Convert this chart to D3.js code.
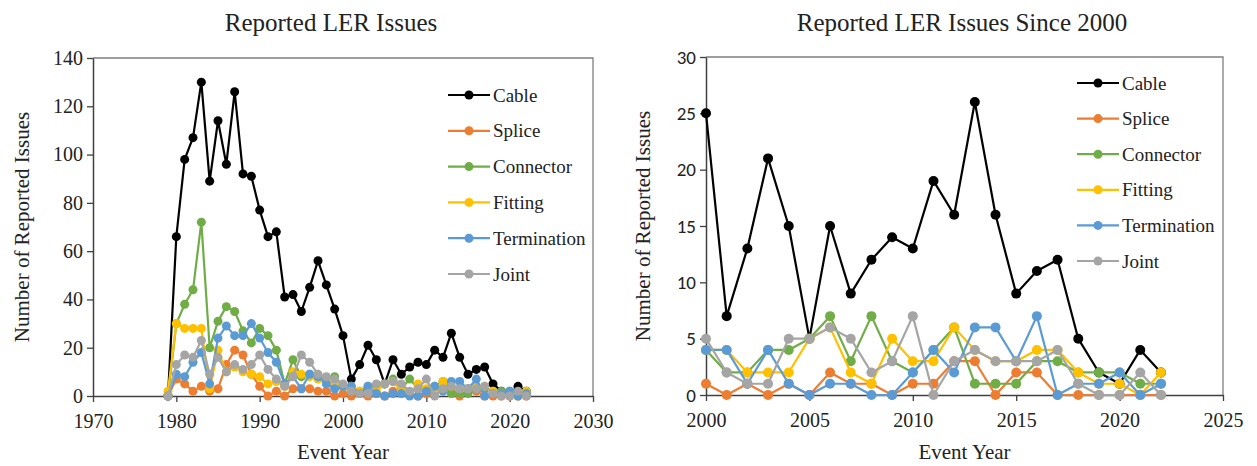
<!DOCTYPE html>
<html><head><meta charset="utf-8">
<script src="https://cdn.jsdelivr.net/npm/d3@7"></script>
<style>
body{margin:0;background:#fff;}
svg{display:block;}
</style></head>
<body>
<svg id="chart" width="1257" height="466"></svg>
<script>
// ---- data ----
const years = d3.range(1979, 2023);
const seriesNames = ["Cable","Splice","Connector","Fitting","Termination","Joint"];
const seriesColors = ["#000000","#ED7D31","#70AD47","#FFC000","#5B9BD5","#A5A5A5"];
const cable = [0,66,98,107,130,89,114,96,126,92,91,77,66,68,41,42,35,45,56,46,36,
  25,7,13,21,15,5,15,9,12,14,13,19,16,26,16,9,11,12,5,2,1,4,2];
const splice = [0,7,5,2,4,2,3,13,19,17,9,4,0,2,0,3,3,3,2,2,0,
  1,0,1,0,1,0,2,1,1,0,1,1,3,3,0,2,2,0,0,0,0,0,0];
const connector = [0,30,38,44,72,20,31,37,35,27,22,28,25,19,5,15,8,9,8,7,8,
  4,2,2,4,4,5,7,3,7,3,2,4,6,1,1,1,3,3,2,2,2,1,1];
const fitting = [2,30,28,28,28,3,19,10,12,10,9,8,5,6,4,10,9,8,7,6,5,
  4,4,2,2,2,5,6,2,1,5,3,3,6,4,3,3,4,4,2,1,1,0,2];
const termination = [0,9,8,14,18,5,24,29,25,25,30,24,18,14,5,8,3,9,8,5,3,
  4,4,1,4,1,0,1,1,0,0,2,4,2,6,6,3,7,0,1,1,2,0,1];
const joint = [0,13,17,16,23,9,16,10,13,11,13,17,11,7,4,8,17,14,9,8,7,
  5,2,1,1,5,5,6,5,2,3,7,0,3,4,3,3,3,4,1,0,0,2,0];
const allValues = [cable, splice, connector, fitting, termination, joint];

const leftXTicks = [1970,1980,1990,2000,2010,2020,2030];
const leftYTicks = [0,20,40,60,80,100,120,140];
const rightXTicks = [2000,2005,2010,2015,2020,2025];
const rightYTicks = [0,5,10,15,20,25,30];

const titles = ["Reported LER Issues","Reported LER Issues Since 2000"];
const xTitle = "Event Year";
const yTitle = "Number of Reported Issues";

// ---- drawing ----
const svg = d3.select("#chart");
const serif = "'Liberation Serif', 'Times New Roman', serif";
const sans = "Carlito, Lato, 'Open Sans', sans-serif";

function panel(cfg){
  const g = svg.append("g");
  const x = d3.scaleLinear().domain(cfg.xDomain).range([cfg.x0, cfg.x1]);
  const y = d3.scaleLinear().domain(cfg.yDomain).range([cfg.y0, cfg.y1]);

  // frame (top & right)
  g.append("path")
    .attr("d", `M${cfg.x0},${cfg.y1}H${cfg.x1}V${cfg.y0}`)
    .attr("fill","none").attr("stroke","#7f7f7f").attr("stroke-width",1.3);

  // axes
  const xa = g.append("g").attr("transform",`translate(0,${cfg.y0})`)
    .call(d3.axisBottom(x).tickValues(cfg.xTicks).tickSize(6).tickSizeOuter(0).tickFormat(d3.format("d")));
  xa.attr("font-family", null).attr("font-size", null);
  xa.select(".domain").attr("stroke","#404040").attr("stroke-width",1.5);
  xa.selectAll(".tick line").attr("stroke","#404040").attr("stroke-width",1.3);
  xa.selectAll("text").style("font-family",serif).style("font-size","20px").attr("fill","#222").attr("dy","1.15em");

  const ya = g.append("g").attr("transform",`translate(${cfg.x0},0)`)
    .call(d3.axisLeft(y).tickValues(cfg.yTicks).tickSize(6).tickSizeOuter(0));
  ya.attr("font-family", null).attr("font-size", null);
  ya.select(".domain").attr("stroke","#404040").attr("stroke-width",1.5);
  ya.selectAll(".tick line").attr("stroke","#404040").attr("stroke-width",1.3);
  ya.selectAll("text").style("font-family",cfg.yFont).style("font-size",cfg.yFontSize+"px").attr("fill","#222").attr("x",-10);

  // series
  const line = d3.line().x(d=>x(d[0])).y(d=>y(d[1]));
  allValues.forEach((vals,i)=>{
    const pts = years.map((yr,k)=>[yr, vals[k]]).filter(d=>d[0]>=cfg.xDomain[0]);
    const sg = g.append("g");
    sg.append("path").attr("d", line(pts)).attr("fill","none")
      .attr("stroke", seriesColors[i]).attr("stroke-width",2.2).attr("stroke-linejoin","round");
    sg.selectAll("circle").data(pts).join("circle")
      .attr("cx",d=>x(d[0])).attr("cy",d=>y(d[1])).attr("r",cfg.r)
      .attr("fill",seriesColors[i]);
  });

  // titles
  g.append("text").attr("x",cfg.titleX).attr("y",31).attr("text-anchor","middle")
    .style("font-family",serif).style("font-size","25px").attr("fill","#222").text(cfg.title);
  g.append("text").attr("x",(cfg.x0+cfg.x1)/2).attr("y",459).attr("text-anchor","middle")
    .style("font-family",serif).style("font-size","21px").attr("fill","#222").text(xTitle);
  g.append("text").attr("transform",`translate(${cfg.yTitleX},${(cfg.y0+cfg.y1)/2}) rotate(-90)`)
    .attr("text-anchor","middle").attr("dy","0.35em")
    .style("font-family",serif).style("font-size","21px").attr("fill","#222").text(yTitle);

  // legend
  const lg = g.append("g");
  seriesNames.forEach((name,i)=>{
    const yy = cfg.legY + i*cfg.legStep;
    lg.append("line").attr("x1",cfg.legX).attr("x2",cfg.legX+42).attr("y1",yy).attr("y2",yy)
      .attr("stroke",seriesColors[i]).attr("stroke-width",2.2);
    lg.append("circle").attr("cx",cfg.legX+21).attr("cy",yy).attr("r",4.5).attr("fill",seriesColors[i]);
    lg.append("text").attr("x",cfg.legX+45).attr("y",yy).attr("dy","0.35em")
      .style("font-family",serif).style("font-size","19px").attr("fill","#222").text(name);
  });
}

panel({xDomain:[1970,2030], yDomain:[0,140], x0:93, x1:593, y0:396, y1:58,
  xTicks:leftXTicks, yTicks:leftYTicks, yFont:serif, yFontSize:20, r:4.5,
  title:titles[0], titleX:331, yTitleX:22, legX:448, legY:95, legStep:35.8});
panel({xDomain:[2000,2025], yDomain:[0,30], x0:706, x1:1223, y0:395, y1:57,
  xTicks:rightXTicks, yTicks:rightYTicks, yFont:sans, yFontSize:19, r:5,
  title:titles[1], titleX:962, yTitleX:643, legX:1077, legY:83, legStep:35.6});
</script>
</body></html>
